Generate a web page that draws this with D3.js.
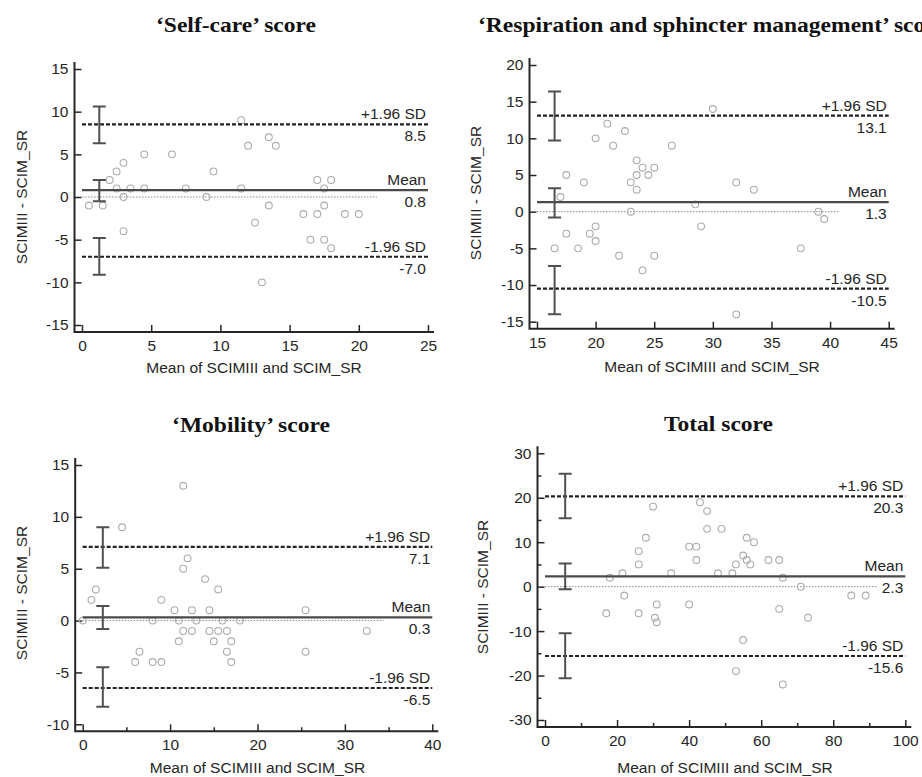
<!DOCTYPE html>
<html>
<head>
<meta charset="utf-8">
<script src="https://cdn.jsdelivr.net/npm/d3@7"></script>
<style>
body { margin: 0; background: #fff; }
svg { display: block; }
</style>
</head>
<body>
<div id="root"></div>
<script>
// Bland-Altman data: x = mean of the two scores, y = difference
var selfCareX = [0.5, 1.5, 2, 2.5, 2.5, 3, 3, 3, 3.5, 4.5, 4.5, 6.5, 7.5, 9, 9.5, 11.5, 11.5, 12, 12.5, 13,
    13.5, 13.5, 14, 16, 16.5, 17, 17, 17.5, 17.5, 17.5, 18, 18, 19, 20];
var selfCareY = [-1, -1, 2, 3, 1, 4, 0, -4, 1, 5, 1, 5, 1, 0, 3, 9, 1, 6, -3, -10,
    7, -1, 6, -2, -5, 2, -2, 1, -1, -5, 2, -6, -2, -2];

var respX = [16.5, 17, 17.5, 17.5, 18.5, 19, 19.5, 20, 20, 20, 21, 21.5, 22, 22.5, 23, 23, 23.5, 23.5, 23.5, 24,
    24, 24.5, 25, 25, 26.5, 28.5, 29, 30, 32, 32, 33.5, 37.5, 39, 39.5];
var respY = [-5, 2, 5, -3, -5, 4, -3, 10, -2, -4, 12, 9, -6, 11, 4, 0, 7, 5, 3, 6,
    -8, 5, 6, -6, 9, 1, -2, 14, 4, -14, 3, -5, 0, -1];

var mobilityX = [0, 1, 1.5, 4.5, 6, 6.5, 8, 8, 9, 9, 10.5, 11, 11, 11.5, 11.5, 11.5, 12, 12.5, 12.5, 13,
    14, 14.5, 14.5, 15, 15.5, 15.5, 16, 16.5, 16.5, 17, 17, 18, 25.5, 25.5, 32.5];
var mobilityY = [0, 2, 3, 9, -4, -3, 0, -4, 2, -4, 1, 0, -2, 13, 5, -1, 6, 1, -1, 0,
    4, 1, -1, -2, 3, -1, 0, -1, -3, -2, -4, 0, 1, -3, -1];

var totalX = [17, 18, 21.5, 22, 26, 26, 26, 28, 30, 30.5, 31, 31, 35, 40, 40, 42, 42, 43, 45, 45,
    48, 49, 52, 53, 53, 55, 55, 56, 56, 57, 58, 62, 65, 65, 66, 66, 71, 73, 85, 89];
var totalY = [-6, 2, 3, -2, 5, 8, -6, 11, 18, -7, -4, -8, 3, 9, -4, 9, 6, 19, 17, 13,
    3, 13, 3, 5, -19, 7, -12, 11, 6, 5, 10, 6, -5, 6, 2, -22, 0, -7, -2, -2];

var titles = ["\u2018Self-care\u2019 score", "\u2018Respiration and sphincter management\u2019 score",
    "\u2018Mobility\u2019 score", "Total score"];
var meanDiff = [0.8, 1.3, 0.3, 2.3];
var upperLimit = [8.5, 13.1, 7.1, 20.3];
var lowerLimit = [-7.0, -10.5, -6.5, -15.6];
// 95% CI bars of the limits and of the mean
var upperCI = [[6.3, 10.6], [9.7, 16.4], [5.1, 9.0], [15.4, 25.4]];
var meanCI = [[-0.5, 2.0], [-0.8, 3.2], [-0.8, 1.4], [-0.6, 5.2]];
var lowerCI = [[-9.1, -4.8], [-14.0, -7.4], [-8.3, -4.5], [-20.6, -10.5]];
var ciAt = [1.25, 16.5, 2.3, 5.6];
var zeroLineEnd = [21.3, 40.7, 34.4, 92.3];

var xDomains = [[0, 25], [15, 45], [0, 40], [0, 100]];
var yDomains = [[-15, 15], [-15, 20], [-10, 15], [-30, 30]];
var xMajor = [5, 5, 10, 20], xMinor = [0, 0, 5, 10];
var yMajor = [5, 5, 5, 10], yMinor = [0, 0, 0, 5];

var xs = [selfCareX, respX, mobilityX, totalX];
var ys = [selfCareY, respY, mobilityY, totalY];

// pixel layout of each panel
var layout = [
    { xr: [82, 428], yr: [325, 69], title: [236, 32, "middle"], yt: [26.5, 197], xt: [254, 373] },
    { xr: [537, 888.7], yr: [321.7, 65], title: [478, 32, "start"], yt: [481, 193], xt: [712, 372] },
    { xr: [82.7, 432.3], yr: [724.3, 465], title: [251, 431.7, "middle"], yt: [26.5, 593], xt: [257.5, 773] },
    { xr: [545, 905.3], yr: [720, 453.3], title: [718.5, 430.7, "middle"], yt: [487.5, 587], xt: [725, 773] }
];

var sans = "'Liberation Sans', Arial, sans-serif";
var fs = "15.5px";
var ink = "#262626";

var svg = d3.select("#root")
    .append("svg")
    .attr("width", 922)
    .attr("height", 777);

function steps(dom, step) {
    var out = [];
    var start = Math.ceil(dom[0] / step) * step;
    for (var v = start; v <= dom[1] + 1e-9; v += step) out.push(v);
    return out;
}

function drawPanel(i) {
    var L = layout[i];
    var x = d3.scaleLinear().domain(xDomains[i]).range(L.xr);
    var y = d3.scaleLinear().domain(yDomains[i]).range(L.yr);
    var g = svg.append("g");

    var axisX = L.xr[0] - 7.5, axisY = L.yr[0] + 7;

    // minor ticks
    if (xMinor[i]) {
        var mx = steps(xDomains[i], xMinor[i]).filter(function (v) { return v % xMajor[i] !== 0; });
        g.append("g").attr("transform", "translate(0," + axisY + ")")
            .call(d3.axisBottom(x).tickValues(mx).tickSize(-4).tickFormat(""))
            .call(function (a) { a.select(".domain").remove(); });
    }
    if (yMinor[i]) {
        var my = steps(yDomains[i], yMinor[i]).filter(function (v) { return v % yMajor[i] !== 0; });
        g.append("g").attr("transform", "translate(" + axisX + ",0)")
            .call(d3.axisLeft(y).tickValues(my).tickSize(-4).tickFormat(""))
            .call(function (a) { a.select(".domain").remove(); });
    }

    var gx = g.append("g").attr("transform", "translate(0," + axisY + ")")
        .call(d3.axisBottom(x).tickValues(steps(xDomains[i], xMajor[i]))
            .tickSize(-7).tickPadding(8).tickFormat(function (d) { return String(d); }));
    var gy = g.append("g").attr("transform", "translate(" + axisX + ",0)")
        .call(d3.axisLeft(y).tickValues(steps(yDomains[i], yMajor[i]))
            .tickSize(-7).tickPadding(6).tickFormat(function (d) { return String(d); }));
    [gx, gy].forEach(function (a) {
        a.select(".domain").remove();
        a.selectAll("text").attr("fill", ink).style("font-family", sans).style("font-size", fs);
    });
    g.selectAll("g.tick line").attr("stroke", ink).attr("stroke-width", 1.5);

    // axis lines
    g.append("path")
        .attr("d", "M" + axisX + "," + (L.yr[1] - 7) + "V" + axisY + "H" + (L.xr[1] + 6))
        .attr("fill", "none").attr("stroke", ink).attr("stroke-width", 2);

    // zero line
    g.append("line")
        .attr("x1", x(xDomains[i][0])).attr("x2", x(zeroLineEnd[i]))
        .attr("y1", y(0)).attr("y2", y(0))
        .attr("stroke", "#8a8a8a").attr("stroke-width", 1).attr("stroke-dasharray", "1.5,1.5");

    // points
    g.selectAll("circle")
        .data(xs[i].map(function (d, k) { return [d, ys[i][k]]; }))
        .enter()
        .append("circle")
        .attr("cx", function (d) { return x(d[0]); })
        .attr("cy", function (d) { return y(d[1]); })
        .attr("r", 3.4)
        .attr("fill", "none")
        .attr("stroke", "#ababab")
        .attr("stroke-width", 1.1);

    // mean and limits
    var refLines = [
        { v: upperLimit[i], label: "+1.96 SD", dash: "4,2", color: "#222" },
        { v: meanDiff[i], label: "Mean", dash: null, color: "#4a4a4a" },
        { v: lowerLimit[i], label: "-1.96 SD", dash: "4,2", color: "#222" }
    ];
    refLines.forEach(function (r) {
        g.append("line")
            .attr("x1", x(xDomains[i][0])).attr("x2", x(xDomains[i][1]))
            .attr("y1", y(r.v)).attr("y2", y(r.v))
            .attr("stroke", r.color).attr("stroke-width", 2.2)
            .attr("stroke-dasharray", r.dash);
        g.append("text")
            .attr("x", x(xDomains[i][1]) - 2).attr("y", y(r.v) - 5)
            .attr("text-anchor", "end").attr("fill", ink)
            .style("font-family", sans).style("font-size", fs)
            .text(r.label);
        g.append("text")
            .attr("x", x(xDomains[i][1]) - 2).attr("y", y(r.v) + 17)
            .attr("text-anchor", "end").attr("fill", ink)
            .style("font-family", sans).style("font-size", fs)
            .text(r.v.toFixed(1));
    });

    // CI bars
    [upperCI[i], meanCI[i], lowerCI[i]].forEach(function (c) {
        var cx = x(ciAt[i]);
        g.append("path")
            .attr("d", "M" + (cx - 6.5) + "," + y(c[1]) + "H" + (cx + 6.5) +
                "M" + cx + "," + y(c[1]) + "V" + y(c[0]) +
                "M" + (cx - 6.5) + "," + y(c[0]) + "H" + (cx + 6.5))
            .attr("fill", "none").attr("stroke", "#505050").attr("stroke-width", 2);
    });

    // titles
    var t = g.append("text")
        .attr("x", L.title[0]).attr("y", L.title[1])
        .attr("text-anchor", L.title[2]).attr("fill", "#111")
        .style("font-family", "'Liberation Serif', 'Times New Roman', serif")
        .style("font-weight", "bold").style("font-size", "21px")
        .text(titles[i]);
    var len = t.node().getComputedTextLength();
    t.attr("textLength", len * 1.12).attr("lengthAdjust", "spacingAndGlyphs");

    g.append("text")
        .attr("x", L.xt[0]).attr("y", L.xt[1])
        .attr("text-anchor", "middle").attr("fill", ink)
        .style("font-family", sans).style("font-size", fs)
        .text("Mean of SCIMIII and SCIM_SR");

    g.append("text")
        .attr("transform", "translate(" + L.yt[0] + "," + L.yt[1] + ") rotate(-90)")
        .attr("text-anchor", "middle").attr("fill", ink)
        .style("font-family", sans).style("font-size", fs)
        .text("SCIMIII - SCIM_SR");
}

for (var i = 0; i < 4; i++) drawPanel(i);
</script>
</body>
</html>
